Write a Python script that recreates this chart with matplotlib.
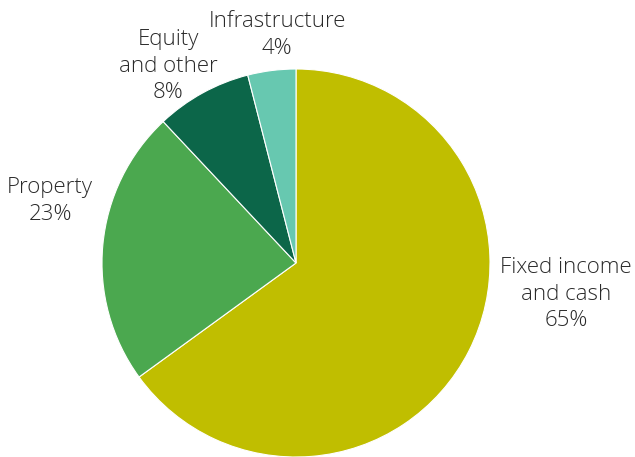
import matplotlib
matplotlib.use("Agg")
import matplotlib.pyplot as plt

categories = ["Fixed income\nand cash", "Property", "Equity\nand other", "Infrastructure"]
shares = [65, 23, 8, 4]
colors = ["#C0BE00", "#4BA84F", "#0C6649", "#67C8B0"]

W, H = 635, 457
fig = plt.figure(figsize=(W / 100, H / 100), dpi=100)
ax = fig.add_axes([0, 0, 1, 1])
ax.set_xlim(0, W)
ax.set_ylim(0, H)
ax.set_aspect("equal")
ax.axis("off")

cx, cy, r = 296, H - 263, 194
ax.pie(shares, colors=colors, startangle=90, counterclock=False,
       center=(cx, cy), radius=r,
       wedgeprops=dict(edgecolor="white", linewidth=0.8))
ax.set_xlim(0, W)
ax.set_ylim(0, H)

# label anchor points (pixel coordinates from the top-left)
label_pos = [(566, 294), (50, 201), (168, 66), (277, 35)]
for name, val, (x, y) in zip(categories, shares, label_pos):
    ax.text(x, H - y, f"{name}\n{val}%", ha="center", va="center",
            fontsize=16, color="#2a2a2a", family="Open Sans",
            fontweight="light", linespacing=1.36)

fig.savefig("out.png", dpi=100)
